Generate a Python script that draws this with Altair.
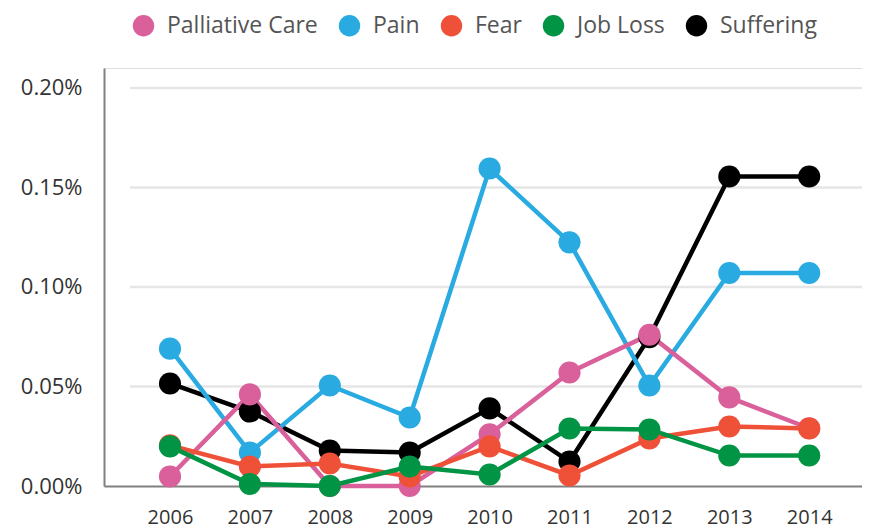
import altair as alt
import pandas as pd

years = [2006, 2007, 2008, 2009, 2010, 2011, 2012, 2013, 2014]
series_names = ["Palliative Care", "Pain", "Fear", "Job Loss", "Suffering"]
series_colors = ["#D9609B", "#29ABE2", "#EF5138", "#009444", "#000000"]
# values in percent units
palliative = [0.0048, 0.046, 0.0, 0.0, 0.026, 0.057, 0.076, 0.0445, 0.029]
pain = [0.069, 0.0168, 0.0505, 0.0344, 0.1595, 0.1224, 0.0505, 0.107, 0.107]
fear = [0.0204, 0.0098, 0.0113, 0.0048, 0.0199, 0.0053, 0.0239, 0.0299, 0.0289]
job_loss = [0.0199, 0.001, 0.0, 0.0098, 0.0058, 0.0289, 0.0284, 0.0153, 0.0153]
suffering = [0.0515, 0.0374, 0.0178, 0.0168, 0.039, 0.0123, 0.0748, 0.1555, 0.1555]
y_ticks = [0.0, 0.0005, 0.001, 0.0015, 0.002]
grid_values = [0.0005, 0.001, 0.0015, 0.002]

draw_order = ["Suffering", "Pain", "Palliative Care", "Fear", "Job Loss"]
color_of = dict(zip(series_names, series_colors))
all_series = dict(zip(series_names, [palliative, pain, fear, job_loss, suffering]))
rows = []
for rank, name in enumerate(draw_order):
    for yr, v in zip(years, all_series[name]):
        rows.append({"year": yr, "series": name, "rank": rank, "value": v / 100.0})
df = pd.DataFrame(rows)
grid_df = pd.DataFrame({"g": grid_values})

W, H = 758, 418
FONT = "Open Sans"

xscale = alt.Scale(domain=[2005.174, 2005.174 + W / 79.9], nice=False, zero=False)
yscale = alt.Scale(domain=[0, 0.0021], nice=False)

grid = alt.Chart(grid_df).mark_rule(color="#e6e6e6", strokeWidth=2.5).encode(
    y=alt.Y("g:Q", scale=yscale, axis=alt.Axis(
        values=y_ticks, format=".2%", grid=False, ticks=False,
        labelFontSize=22, labelColor="#333333", labelFont=FONT, labelPadding=22,
        domainColor="#808080", domainWidth=2, title=None)),
    x=alt.value(26),
    x2=alt.value(W),
)

base = alt.Chart(df)
layers = [grid]
for name in draw_order:
    sub = base.transform_filter(alt.datum.series == name)
    line = sub.mark_line(strokeWidth=4.5, color=color_of[name]).encode(
        x=alt.X("year:Q", scale=xscale, axis=alt.Axis(
            values=years, format="d", grid=False, ticks=False,
            labelFontSize=20, labelColor="#333333", labelFont=FONT, labelPadding=21,
            domainColor="#808080", domainWidth=2, title=None)),
        y=alt.Y("value:Q", scale=yscale),
    )
    layers.append(line)

pts = base.mark_circle(size=490, opacity=1).encode(
    x=alt.X("year:Q", scale=xscale),
    y=alt.Y("value:Q", scale=yscale),
    order=alt.Order("rank:Q"),
    fill=alt.Fill("series:N", scale=alt.Scale(domain=series_names, range=series_colors),
                  legend=alt.Legend(
                      orient="none", legendX=28, legendY=-54, direction="horizontal",
                      title=None, labelFontSize=23, labelColor="#555555", labelFont=FONT,
                      symbolType="circle", symbolSize=460, symbolStrokeWidth=0,
                      labelOffset=12, columnPadding=20, padding=0)),
)
layers.append(pts)

chart = alt.layer(*layers).properties(
    width=W, height=H,
    autosize=alt.AutoSizeParams(type="none"),
    padding={"left": 96, "top": 60, "right": 0, "bottom": 42},
).configure_view(stroke=None).configure(font=FONT)

chart.save("out.html", embed_options={"renderer": "svg", "actions": False})
